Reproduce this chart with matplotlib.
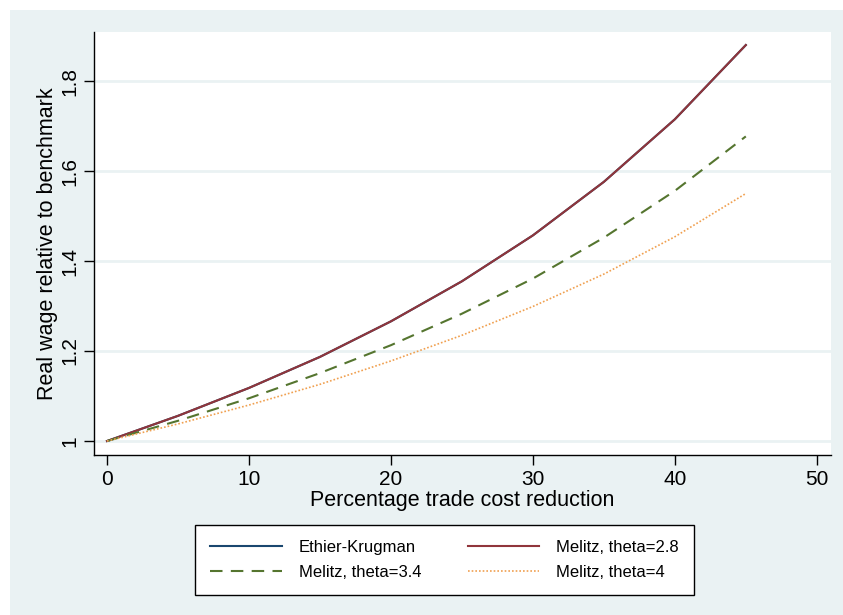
#!/usr/bin/env python3
"""Real wage gains from trade cost reductions, Stata-style line chart."""

import matplotlib
matplotlib.use("Agg")
import matplotlib.pyplot as plt
from matplotlib.patches import Rectangle

plt.rcParams["font.family"] = ["Liberation Sans", "DejaVu Sans"]

# Percentage trade cost reduction
cost_cut = [0, 5, 10, 15, 20, 25, 30, 35, 40, 45]

# Real wage relative to benchmark
ethier_krugman = [1.000, 1.056, 1.118, 1.187, 1.266, 1.355, 1.457, 1.576, 1.715, 1.880]
melitz_28 = [1.000, 1.056, 1.118, 1.187, 1.266, 1.355, 1.457, 1.576, 1.715, 1.880]
melitz_34 = [1.000, 1.045, 1.095, 1.151, 1.213, 1.283, 1.361, 1.452, 1.556, 1.677]
melitz_4 = [1.000, 1.038, 1.080, 1.126, 1.178, 1.235, 1.299, 1.371, 1.454, 1.550]

x_ticks = [0, 10, 20, 30, 40, 50]
y_ticks = [1.0, 1.2, 1.4, 1.6, 1.8]
y_tick_labels = ["1", "1.2", "1.4", "1.6", "1.8"]

BG = "#eaf2f3"

W, H = 843, 615
fig = plt.figure(figsize=(W / 100, H / 100), dpi=100)
fig.patch.set_facecolor("white")
# graph region (Stata s2color background), small white margin top/left
fig.patches.append(Rectangle((10 / W, 0), 1, 1 - 10 / H, transform=fig.transFigure,
                             facecolor=BG, edgecolor="none", zorder=-10))

ax = fig.add_axes([94 / W, 1 - 455 / H, (831 - 94) / W, (455 - 32) / H])
ax.set_facecolor("white")

l_ek, = ax.plot(cost_cut, ethier_krugman, color="#1a476f", lw=1.5, label="Ethier-Krugman")
l_28, = ax.plot(cost_cut, melitz_28, color="#90353b", lw=1.5, label="Melitz, theta=2.8")
l_34, = ax.plot(cost_cut, melitz_34, color="#55752f", lw=1.5, dashes=(6, 4), label="Melitz, theta=3.4")
l_4, = ax.plot(cost_cut, melitz_4, color="#f0a050", lw=1.2, linestyle=(0, (1, 1.2)), label="Melitz, theta=4")

ax.set_xlim(-0.915, 51.0)
ax.set_ylim(0.969, 1.909)
ax.set_xticks(x_ticks)
ax.set_yticks(y_ticks)
ax.set_yticklabels(y_tick_labels, rotation=90, va="center")
ax.tick_params(axis="both", labelsize=15, length=7, width=1, color="black")
ax.grid(axis="y", color=BG, lw=2)
ax.set_axisbelow(True)

for side in ["top", "right"]:
    ax.spines[side].set_visible(False)
for side in ["left", "bottom"]:
    ax.spines[side].set_linewidth(1)

ax.set_xlabel("Percentage trade cost reduction", fontsize=15.5, labelpad=1)
ax.set_ylabel("Real wage relative to benchmark", fontsize=15.5, labelpad=2)

# row-wise order like Stata: EK, 2.8 / 3.4, 4
handles = [l_ek, l_34, l_28, l_4]
leg = fig.legend(handles, [h.get_label() for h in handles],
                 loc="center", bbox_to_anchor=(444.5 / W, 1 - 560 / H), ncol=2,
                 fontsize=12, frameon=True, fancybox=False, edgecolor="black",
                 framealpha=1, handlelength=4.3, handletextpad=1.0,
                 columnspacing=2.8, borderpad=0.9, labelspacing=0.6)
leg.get_frame().set_linewidth(1)

plt.savefig("out.png", dpi=100)
